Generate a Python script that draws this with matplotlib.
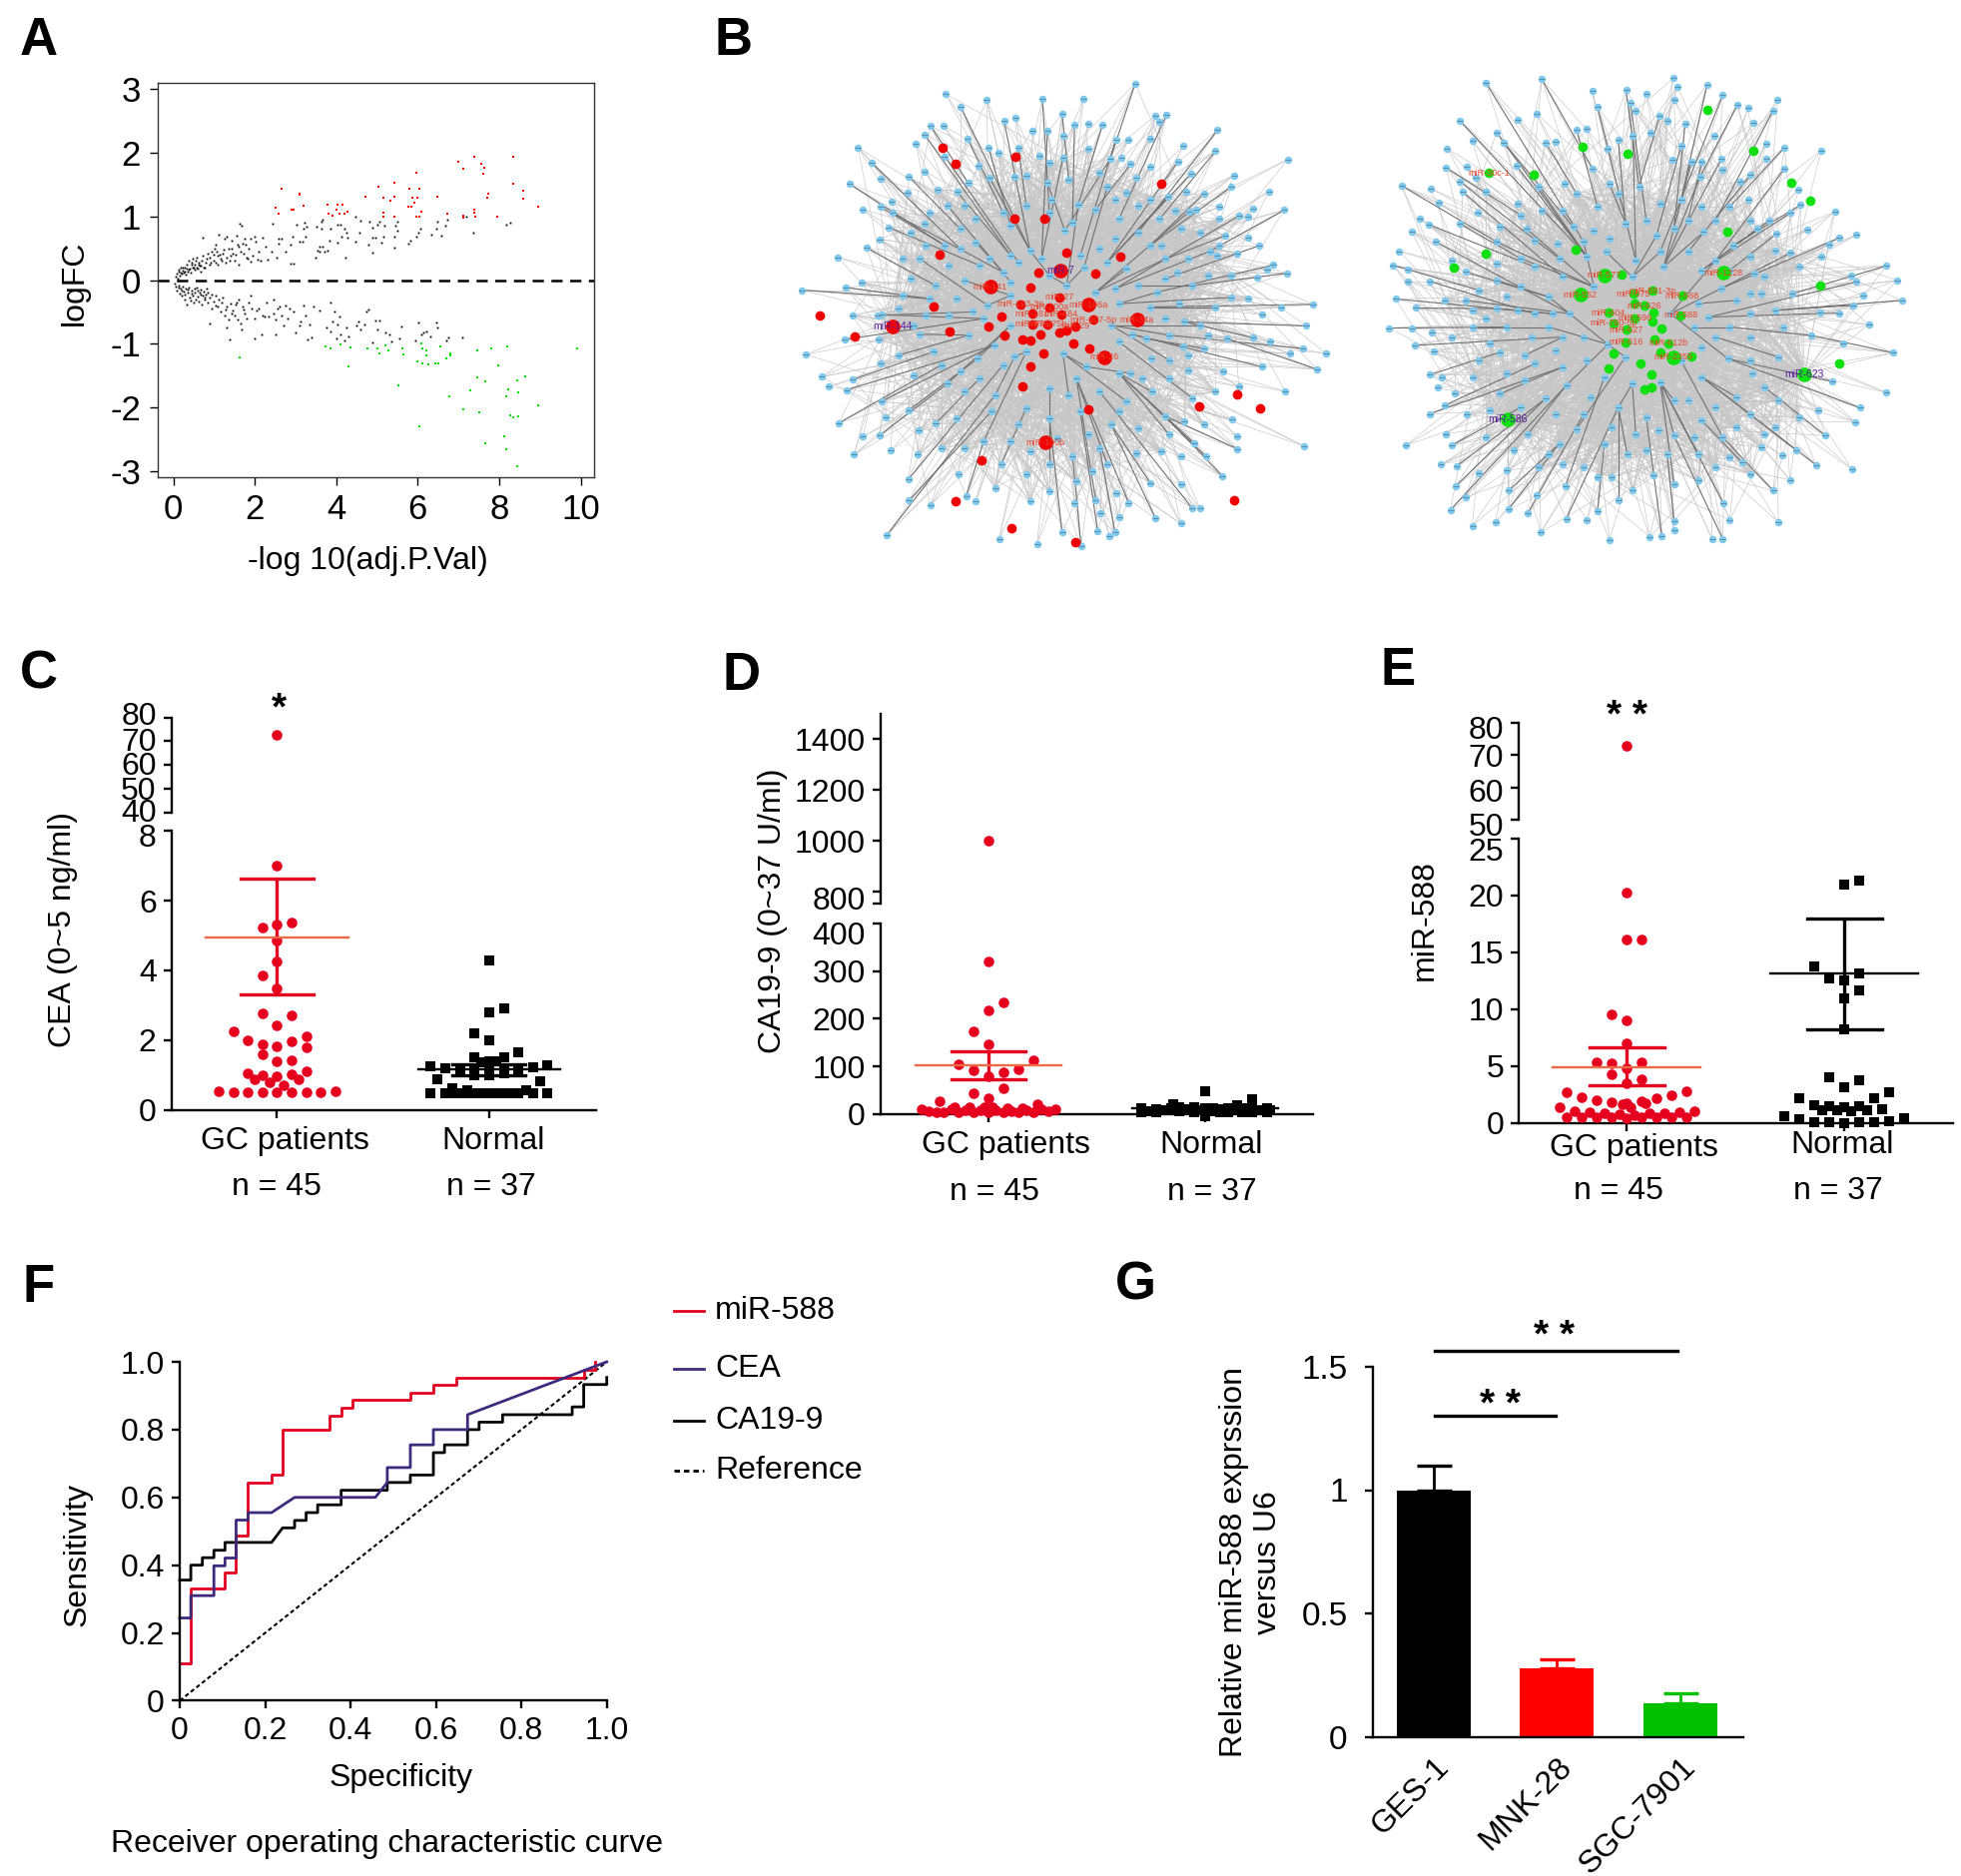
import matplotlib
matplotlib.use("Agg")
import matplotlib.pyplot as plt
from matplotlib.collections import LineCollection
from matplotlib.transforms import ScaledTranslation

plt.rcParams['font.family'] = ['Liberation Sans', 'DejaVu Sans']

W, H = 1965, 1879
RED = '#e60020'
ORANGE = '#ec6a45'
FS = 23

# Panel A: volcano plot
up_x = [2.51,2.58,2.66,3.09,3.11,2.89,2.95,3.2,3.79,3.81,3.91,4.02,4.0,4.16,4.09,4.19,4.27,4.72,5.03,5.15,5.33,5.43,5.43,5.16,5.15,5.43,5.79,6.05,5.96,5.88,6.0,5.92,5.76,5.85,6.1,5.96,6.04,6.47,6.73,6.99,7.12,7.4,7.55,7.63,7.61,7.11,7.12,7.38,7.4,7.41,7.74,7.71,7.95,8.34,8.34,8.59,8.59,8.96]
up_y = [1.14,1.04,1.44,1.34,1.36,1.10,1.11,1.17,1.19,1.04,1.01,1.19,1.11,1.19,1.04,1.05,1.08,1.31,1.47,1.29,1.25,1.31,1.53,1.06,1.0,1.0,1.44,1.43,1.68,1.29,1.29,1.22,1.16,1.15,1.08,1.0,1.0,1.31,1.04,1.86,1.75,1.94,1.83,1.77,1.67,1.01,0.98,1.10,1.06,1.0,1.35,1.3,1.0,1.94,1.52,1.40,1.28,1.15]
down_x = [1.63,3.74,3.86,4.1,4.35,4.29,4.77,5.01,5.06,5.21,5.28,5.63,5.65,5.53,6.09,6.11,6.21,6.22,6.0,6.12,6.27,6.44,6.5,6.55,6.71,6.79,6.81,6.78,7.12,7.29,7.45,7.46,7.52,7.66,7.66,7.8,7.98,8.19,8.12,8.18,8.23,8.17,8.27,8.34,8.46,8.44,8.47,8.44,8.63,8.96,9.92,6.05]
down_y = [-1.21,-1.04,-1.07,-1.01,-1.06,-1.35,-1.07,-1.08,-1.16,-1.02,-1.11,-1.07,-1.17,-1.66,-1.0,-1.08,-1.1,-1.18,-1.27,-1.31,-1.32,-1.31,-1.31,-1.05,-1.23,-1.15,-1.19,-1.82,-2.03,-1.74,-1.11,-1.53,-2.07,-1.59,-2.57,-1.07,-1.34,-1.04,-2.46,-1.82,-1.71,-2.65,-2.13,-2.16,-2.14,-1.57,-1.77,-2.92,-1.51,-1.96,-1.08,-2.29]
ns_up_x = [.05,.08,.1,.12,.15,.17,.2,.22,.25,.28,.3,.32,.35,.38,.4,.42,.45,.48,.5,.52,.55,.58,.6,.62,.65,.68,.7,.72,.73,.78,.8,.85,.88,.9,.95,1.0,1.02,1.05,1.08,1.1,1.12,1.15,1.2,1.25,1.28,1.32,1.35,1.4,1.42,1.45,1.5,1.55,1.58,1.6,1.62,1.65,1.68,1.7,1.75,1.8,1.85,1.9,2.0,1.9,2.08,2.18,2.26,2.1,2.31,2.41,2.53,2.44,2.58,2.58,2.66,2.76,2.87,2.96,2.87,2.92,3.02,3.09,3.22,3.2,3.27,3.24,3.17,3.48,3.53,3.58,3.66,3.51,3.63,3.66,3.63,3.58,3.71,3.78,3.86,3.83,4.03,4.11,4.19,4.24,4.03,4.14,4.27,4.22,4.46,4.59,4.82,4.57,4.46,4.78,4.9,4.9,4.95,4.9,5.05,5.02,5.18,5.15,5.1,5.43,5.43,5.49,5.46,5.51,5.81,5.76,5.97,6.02,6.07,6.34,6.47,6.45,6.58,6.68,6.73,7.2,7.37,8.17,8.27,.14,.18,.24,.27,.33,.37,.44,.47,.53,.57,.63,.67,.74,.83,.92,.98,1.04,1.07,1.13,1.18,1.23,1.3,1.38,1.44,1.52,1.6,1.72,1.78,1.83,1.95,2.03,2.15]
ns_up_y = [.05,.1,.03,.14,.07,.19,.1,.15,.12,.2,.08,.25,.14,.3,.18,.12,.27,.33,.2,.16,.3,.35,.18,.25,.22,.14,.3,.38,.66,.2,.28,.42,.25,.35,.45,.3,.5,.55,.38,.25,.72,.33,.42,.65,.28,.68,.5,.38,.62,.42,.3,.7,.55,.25,.88,.45,.85,.58,.65,.35,.5,.65,.68,.29,.32,.66,.53,.44,.32,.45,.35,.89,.65,.57,.65,.45,.26,.26,.56,.68,.87,.6,.9,.81,.84,.68,.6,.35,.47,.53,.53,.84,.92,.95,.8,.44,.44,.47,.8,.62,.87,.87,.8,.74,.59,.68,.66,.36,.99,.93,.92,.75,.6,.56,.43,.66,.66,.83,.92,.87,.86,.68,.59,.51,.68,.77,.86,.92,.62,.57,.68,.74,.8,.71,.92,.8,.69,.86,.95,.99,.75,.87,.9,.17,.12,.2,.13,.18,.16,.24,.19,.25,.19,.27,.23,.2,.33,.28,.4,.27,.45,.4,.3,.48,.36,.3,.5,.4,.52,.42,.55,.34,.38,.6,.3]
ns_down_x = [.03,.06,.09,.12,.15,.18,.2,.22,.25,.28,.3,.33,.35,.38,.4,.42,.45,.48,.5,.53,.55,.58,.6,.63,.65,.68,.7,.72,.75,.78,.8,.82,.85,.9,.95,1.0,1.05,1.1,1.15,1.2,1.25,1.3,1.32,1.35,1.38,1.4,1.45,1.5,1.55,1.6,1.65,1.68,1.7,1.75,1.8,1.9,1.92,2.0,2.0,2.1,2.17,2.2,2.3,2.35,2.45,2.45,2.5,2.52,2.6,2.65,2.7,2.75,2.8,2.85,2.95,3.0,3.1,3.12,3.2,3.25,3.3,3.35,3.4,3.45,3.6,3.75,3.85,3.87,3.9,3.95,4.0,4.02,4.08,4.1,4.2,4.25,4.3,4.5,4.55,4.6,4.75,4.8,4.7,4.9,4.95,5.0,5.05,5.2,5.3,5.35,5.55,5.6,5.95,6.02,6.1,6.15,6.2,6.3,6.45,6.47,6.7,6.75,7.1,.14,.21,.27,.36,.44,.52,.6,.67,.77,.84,.88,.93,1.03,1.12,1.18,1.28,1.43,1.53,1.58,1.72,1.85,2.05,2.25,2.55]
ns_down_y = [-.05,-.1,-.17,-.08,-.21,-.13,-.25,-.1,-.18,-.3,-.14,-.38,-.2,-.12,-.27,-.32,-.16,-.24,-.36,-.19,-.3,-.12,-.26,-.33,-.2,-.15,-.39,-.25,-.18,-.3,-.22,-.14,-.35,-.68,-.45,-.33,-.25,-.42,-.5,-.28,-.55,-.42,-.75,-.62,-.93,-.37,-.48,-.56,-.35,-.3,-.68,-.78,-.42,-.52,-.6,-.25,-.44,-.92,-.6,-.45,-.85,-.55,-.35,-.58,-.3,-.52,-.62,-.85,-.42,-.55,-.72,-.4,-.6,-.44,-.5,-.82,-.72,-.65,-.4,-.55,-.94,-.7,-.9,-.42,-.48,-.75,-.8,-.35,-.65,-.5,-.92,-.7,-.57,-.85,-.95,-.75,-.88,-.72,-.65,-.78,-.5,-.46,-.7,-.98,-.64,-.77,-.63,-.83,-.85,-.97,-.92,-.73,-.95,-.66,-.85,-.82,-.8,-.88,-.66,-.75,-.95,-.9,-.9,-.11,-.16,-.23,-.15,-.21,-.13,-.16,-.22,-.27,-.2,-.27,-.23,-.4,-.3,-.36,-.47,-.52,-.38,-.62,-.47,-.36,-.48,-.58,-.44]

# Panel B: network layout (crop coordinates)
left_genes = [(922,72),(432,103),(470,140),(538,120),(682,118),(788,116),(733,163),(612,175),(583,185),(975,168),(1003,166),(985,188),(393,200),(427,200),(378,226),(205,265),(240,310),(355,252),(488,237),(655,213),(695,213),(737,230),(765,195),(800,192),(837,197),(960,238),(872,240),(905,240),(1135,212),(1047,260),(1130,275),(1317,300),(1067,343),(1178,348),(1170,383),(1268,396),(1307,453),(1228,447),(1190,470),(1215,472),(183,374),(263,358),(337,353),(377,336),(430,292),(517,320),(543,265),(568,280),(620,265),(675,290),(735,296),(800,267),(858,298),(885,296),(910,314),(962,323),(1033,306),(333,400),(462,398),(217,451),(263,443),(293,428),(295,462),(390,460),(285,505),(260,541),(228,567),(378,494),(437,440),(490,370),(545,355),(610,352),(695,370),(750,360),(850,383),(925,355),(1008,412),(1055,398),(1100,403),(1025,455),(1062,457),(1140,443),(1243,560),(1213,535),(1155,530),(1135,590),(1115,577),(1187,583),(1280,618),(1237,655),(1315,643),(1262,632),(1383,737),(1300,746),(1365,802),(1415,885),(1393,933),(1310,1000),(1250,925),(1322,885),(1355,870),(1272,850),(1228,838),(1250,768),(1170,716),(1213,718),(1130,745),(1160,840),(1100,870),(1150,940),(1010,905),(1190,985),(1070,1020),(1185,1135),(1187,1173),(1360,1165),(1105,1195),(1173,1085),(1075,1155),(1040,1195),(1148,1255),(1090,1352),(1070,1352),(1040,1398),(975,1383),(1040,1280),(962,1277),(872,1307),(905,1335),(880,1380),(825,1422),(855,1435),(870,1425),(833,1367),(820,1328),(765,1336),(733,1425),(668,1460),(782,1465),(570,1445),(280,1432),(392,1343),(337,1328),(510,1330),(485,1314),(465,1250),(335,1265),(195,1190),(155,1095),(218,1135),(260,1133),(290,1178),(265,1030),(277,1077),(335,1057),(362,1117),(405,1097),(130,985),(175,995),(112,955),(192,963),(263,915),(310,890),(70,888),(170,843),(258,843),(60,694),(153,595),(172,686),(215,670),(265,768),(190,770),(255,770),(320,710),(365,827),(400,880),(437,975),(480,1000),(515,900),(557,860),(610,895),(735,885),(795,925),(880,945),(910,945),(963,900),(1045,865),(915,828),(1010,830),(960,745),(980,700),(1035,735),(1070,680),(1030,640),(1000,600),(960,560),(900,630),(850,610),(790,625),(740,515),(775,435),(705,420),(650,575),(600,590),(510,550),(440,620),(480,665),(405,680),(365,600),(390,720),(540,740),(600,710),(745,680),(880,735),(1090,800),(1060,935),(965,1000),(1000,1075),(900,1030),(800,1130),(750,1010),(640,1050),(560,1010),(460,1080),(530,1150),(600,1150),(700,1220),(640,1250),(575,1220),(760,1195),(850,1220),(925,1185),(1010,1130),(1100,1100)]
left_inner = [(470,510),(510,480),(580,460),(640,440),(700,460),(760,490),(820,450),(870,420),(930,440),(985,480),(1040,510),(1090,520),(1140,560),(470,570),(545,600),(580,640),(620,610),(680,600),(780,590),(830,570),(870,540),(930,520),(990,560),(1060,600),(1110,650),(1170,650),(460,720),(500,760),(440,770),(380,770),(350,800),(490,830),(530,780),(600,800),(640,880),(580,920),(520,960),(470,940),(420,920),(350,950),(700,990),(770,960),(830,1000),(880,1060),(940,960),(1010,960),(1060,890),(1110,830),(1050,790),(1000,780),(950,840),(880,850),(860,800),(870,690),(930,680),(1000,660),(820,700),(700,650),(600,670),(520,620),(430,560),(340,520),(380,560),(320,600),(340,660),(310,750),(550,1060),(620,1100),(700,1080),(780,1060),(860,1100),(930,1110),(480,1170),(420,1170),(360,1190),(650,1180),(720,1140),(830,1170),(990,1180),(1050,1090),(1130,1000),(700,1300),(650,1330),(560,1290),(770,1270),(810,1240),(600,500),(880,480),(1140,480),(480,440),(410,390),(700,310),(640,350),(830,340),(900,400),(960,420),(1080,450)]
left_big = [(728,634),(295,804),(690,1153),(842,896),(927,783),(801,738),(547,684)]
left_mid = [(625,736),(700,745),(725,716),(730,767),(656,765),(655,797),(695,797),(767,803),(813,783),(684,884),(650,925),(584,832),(630,842),(650,847),(678,829),(727,823),(745,815),(761,855),(804,870),(630,985),(575,775),(542,805),(442,820),(651,686),(819,644),(672,642),(743,580),(883,594),(417,587),(688,480),(609,478),(612,291),(458,313),(423,266),(990,373),(107,771),(196,835),(400,743),(800,1053),(1088,1043),(1246,1049),(1185,1008),(525,1208),(457,1330),(602,1412),(767,1453),(1177,1327)]
left_labels = ['miR-7','miR-144','miR-100b','miR-26','miR-34a','miR-106a','miR-141','miR-193-3p','miR-200a','miR-27','miR-484','miR-181','miR-375','miR-375b','miR-29','miR-107-5p']
left_label_xy = [(728,634),(295,804),(690,1153),(842,896),(927,783),(801,738),(547,684),(625,736),(700,745),(725,716),(730,767),(656,765),(655,797),(695,797),(767,803),(813,783)]

right_genes = [(500,58),(878,55),(340,70),(890,80),(975,75),(645,92),(742,90),(800,103),(1020,105),(880,120),(755,130),(1178,120),(1062,135),(1093,145),(660,140),(770,152),(1165,152),(485,160),(838,168),(430,178),(265,183),(860,183),(912,190),(1108,188),(600,210),(630,205),(370,218),(812,218),(390,247),(300,242),(510,247),(540,245),(762,226),(995,228),(720,240),(228,265),(225,323),(285,320),(427,317),(690,267),(900,258),(1145,250),(1198,262),(1302,272),(1017,296),(1145,295),(1197,326),(645,325),(960,305),(875,300),(930,305),(310,352),(265,365),(180,385),(97,377),(203,427),(272,395),(340,396),(490,380),(565,370),(695,372),(1020,330),(955,350),(1070,365),(1100,345),(1238,388),(1243,435),(1095,420),(1215,458),(1342,455),(1155,480),(1262,508),(1175,520),(1405,524),(1355,533),(1325,552),(1215,578),(1303,588),(1490,617),(1388,646),(1405,665),(1522,660),(1535,720),(1425,707),(1395,735),(1300,755),(1355,758),(1440,793),(1275,825),(1365,848),(1510,877),(1490,996),(1415,1042),(1400,1084),(1335,963),(1295,1048),(1315,1125),(1392,1226),(1288,1213),(1213,1258),(1230,1168),(1190,1185),(1165,1290),(1180,1385),(1022,1328),(1040,1377),(1020,1435),(990,1435),(880,1380),(880,1407),(845,1425),(810,1428),(720,1320),(695,1437),(660,1350),(630,1378),(570,1375),(497,1415),(460,1357),(367,1383),(405,1345),(300,1395),(237,1348),(280,1310),(252,1277),(320,1238),(405,1290),(485,1303),(567,1278),(210,1212),(255,1217),(108,1155),(240,1155),(225,1120),(178,1060),(285,1062),(220,1035),(200,982),(178,943),(213,950),(135,855),(190,873),(60,803),(125,805),(138,743),(185,817),(80,716),(115,663),(178,663),(115,628),(72,615),(90,573),(195,545),(125,514),(175,493),(148,475),(263,490),(315,458),(370,545),(440,465),(455,505),(545,550),(620,545),(695,535),(830,525),(880,505),(965,515),(1050,555),(1120,505),(1100,590),(1000,600),(920,575),(840,575),(770,600),(685,575),(550,595),(440,595),(370,610),(280,635),(320,690),(370,660),(440,680),(520,710),(580,760),(520,800),(430,750),(370,745),(340,775),(280,720),(240,830),(300,800),(380,875),(450,885),(540,870),(620,830),(690,852),(740,890),(840,965),(880,1020),(960,950),(1035,895),(1100,830),(1040,800),(980,770),(1060,720),(1130,700),(1015,685),(1195,800),(1180,890),(1105,940),(1060,1010),(1100,1060),(1020,1130),(960,1080),(880,1125),(800,1070),(720,1040),(640,1010),(570,975),(450,960),(380,1000),(510,1015),(460,1120),(520,1180),(600,1105),(680,1150),(770,1120),(835,1110),(745,1180),(660,1250),(880,1270),(820,1245),(950,1180),(1040,1190),(1075,1205),(1140,1120)]
right_inner = [(600,400),(660,440),(720,400),(780,380),(840,430),(900,420),(960,440),(1040,440),(1100,480),(560,450),(500,450),(430,430),(380,500),(480,540),(590,500),(650,510),(740,490),(800,480),(920,480),(1000,480),(1170,570),(1240,620),(1140,650),(1220,700),(1170,750),(1100,760),(1110,640),(1040,630),(960,630),(850,620),(760,650),(630,590),(560,650),(480,620),(400,710),(300,750),(220,720),(240,600),(480,760),(560,830),(470,830),(400,800),(350,850),(320,900),(400,940),(480,910),(560,920),(630,900),(680,950),(760,970),(900,900),(960,860),(1000,830),(1100,900),(1140,980),(1180,1020),(1000,1040),(920,1020),(940,1130),(860,1180),(800,1170),(700,1100),(620,1060),(540,1060),(440,1040),(350,1050),(300,950),(250,1000),(340,1130),(420,1170),(550,1150),(620,1220),(700,1250),(760,1290),(950,1260),(1000,1220),(1060,1100),(1170,1100),(1240,1070),(1130,1160),(1100,1240),(560,1210),(490,1220),(400,1230),(940,800),(950,730),(870,760),(1100,700),(650,680),(530,760)]
right_big = [(1255,941),(403,1077),(1022,638),(680,645),(610,703),(878,891)]
right_mid = [(728,642),(763,700),(818,692),(903,706),(765,730),(795,737),(691,757),(767,773),(820,757),(818,783),(899,765),(705,788),(743,808),(845,804),(741,846),(825,838),(865,848),(840,876),(930,888),(706,878),(693,923),(784,909),(816,943),(814,980),(796,988),(1032,515),(597,567),(340,580),(248,622),(347,338),(476,343),(617,260),(747,282),(977,150),(1107,271),(1218,368),(1273,421),(1300,675),(1355,909)]
right_labels = ['miR-623','miR-586','miR-1228','miR-577','miR-552','miR-2355','miR-675','miR-591-3p','miR-568','miR-626','miR-604','miR-596','miR-588','miR-760-5p','miR-627','miR-616','miR-612b','miR-30c-1']
right_label_xy = [(1255,941),(403,1077),(1022,638),(680,645),(610,703),(878,891),(763,700),(818,692),(903,706),(795,737),(691,757),(767,773),(899,765),(705,788),(743,808),(741,846),(865,848),(347,338)]

# Panel C: CEA
cea_gc_x = [0,.069,-.069,0,0,0,-.069,0,-.069,.069,0,-.206,.138,-.138,.069,-.069,0,.138,-.069,0,.069,-.138,.138,-.069,.069,0,-.104,.102,-.035,.032,-.275,-.206,-.138,-.069,0,.069,.138,.206,.275]
cea_gc_y = [7.0,5.37,5.24,5.31,4.85,4.27,3.86,3.47,2.77,2.71,2.41,2.25,2.11,1.99,1.96,1.89,1.83,1.8,1.6,1.39,1.42,1.06,1.09,1.0,1.01,.95,.88,.88,.8,.71,.53,.49,.49,.49,.49,.49,.49,.49,.52]
cea_gc_top = 72.8
cea_n_x = [0,.069,0,-.069,0,.138,-.069,.069,0,-.037,.033,-.275,.275,-.206,.206,-.138,-.069,0,.069,.138,-.069,0,.069,-.242,.242,-.173,-.104,.173,-.275,-.206,-.138,-.069,0,.069,.138,.206,.275,-.173,-.104,-.033,.033,.104]
cea_n_y = [4.29,2.91,2.8,2.2,2.0,1.65,1.51,1.51,1.39,1.35,1.39,1.26,1.28,1.19,1.23,1.12,1.18,1.18,1.18,1.12,.99,.99,1.06,.87,.81,.63,.57,.57,.48,.48,.48,.48,.48,.48,.48,.48,.48,.48,.48,.48,.48,.48]
cea_stats = [(4.95, 3.3, 6.65), (1.15, 1.0, 1.3)]

# Panel D: CA19-9
ca_gc_x = [0,.069,0,-.069,0,.206,-.138,-.069,.138,.069,0,.069,-.069,0,-.224,.224,-.31,-.275,-.242,-.206,-.173,-.155,-.138,-.104,-.086,-.069,-.035,-.018,0,.018,.034,.069,.086,.104,.138,.155,.173,.206,.224,.242,.275,.31]
ca_gc_y = [320,235,217,174,146,112,104,92,93,88,80,54,43,32,26,20,10,5,3,3,10,14,3,8,15,3,8,14,4,14,8,3,12,5,3,13,8,3,10,10,5,10]
ca_gc_top = 1000
ca_n_x = [0,.215,-.146,.146,-.296,-.296,-.261,-.226,-.226,-.19,-.155,-.12,-.12,-.085,-.05,-.05,-.015,0,0,.035,.035,.07,.07,.105,.105,.14,.17,.175,.215,.215,.25,.285,.285,.3]
ca_n_y = [47,30,20,18,12,4,6,10,3,7,12,6,14,10,3,14,8,13,-4,6,12,4,10,12,3,8,4,12,12,4,8,4,12,8]
ca_stats = [(102, 72, 131), (11, 9, 13)]

# Panel E: miR-588
mir_gc_x = [0,0,.07,-.068,0,0,-.137,-.068,.07,0,-.068,.07,0,-.274,.276,-.205,.207,-.137,-.068,.139,.07,.087,0,-.017,.017,-.31,-.241,-.171,-.103,-.034,.036,.104,.173,.241,.31,-.274,-.205,-.137,-.068,0,.07,.139,.207,.276]
mir_gc_y = [20.26,16.1,16.15,9.55,9.05,6.96,5.35,5.25,5.35,4.75,4.24,3.84,3.5,2.66,2.73,2.22,2.39,1.95,1.82,2.12,1.92,1.75,1.72,1.62,1.38,1.35,1.0,.94,.87,.74,.67,.81,.87,.94,1.04,.47,.47,.45,.45,.42,.45,.45,.45,.47]
mir_gc_top = 72.8
mir_n_x = [.07,0,-.137,.07,-.068,0,.07,0,0,-.068,.07,0,.207,-.205,.139,-.137,-.068,0,.07,.173,-.103,-.034,.034,.104,-.276,-.205,.276,-.137,-.068,0,.07,.139,.207]
mir_n_y = [21.3,21.0,13.76,13.1,12.7,12.5,11.65,10.9,8.2,3.97,3.7,3.13,2.66,2.19,2.12,1.5,1.41,1.35,1.41,1.2,1.08,1.08,1.0,1.08,.6,.34,.4,.05,.05,-.05,.05,.05,.1]
mir_stats = [(4.9, 3.3, 6.65), (13.15, 8.2, 18.0)]

# Panel F: ROC curves
roc_mir_x = [0,.026,.026,.106,.106,.132,.132,.16,.16,.215,.215,.241,.241,.35,.35,.378,.378,.404,.404,.54,.54,.594,.594,.647,.647,.946,.946,.973,.973]
roc_mir_y = [.11,.11,.33,.33,.378,.378,.487,.487,.644,.644,.667,.667,.8,.8,.842,.842,.865,.865,.888,.888,.91,.91,.933,.933,.954,.954,.977,.977,1.0]
roc_cea_x = [0,.026,.026,.08,.08,.106,.106,.132,.132,.16,.16,.215,.269,.458,.486,.486,.54,.54,.594,.594,.674,.674,1.0]
roc_cea_y = [.244,.244,.31,.31,.398,.398,.421,.421,.533,.533,.555,.555,.6,.6,.644,.688,.688,.755,.755,.8,.8,.844,1.0]
roc_ca_x = [0,.026,.026,.053,.053,.08,.08,.106,.106,.215,.241,.269,.269,.296,.296,.323,.323,.378,.378,.486,.486,.54,.54,.594,.594,.62,.62,.674,.674,.701,.701,.756,.756,.919,.919,.946,.946,1.0,1.0]
roc_ca_y = [.356,.356,.4,.4,.422,.422,.444,.444,.467,.467,.51,.51,.532,.532,.555,.555,.578,.578,.621,.621,.644,.644,.666,.666,.732,.732,.755,.755,.8,.8,.822,.822,.844,.844,.867,.867,.933,.933,.954]
ref_x = [0, 1]
ref_y = [0, 1]
legend_names = ['miR-588', 'CEA', 'CA19-9', 'Reference']

# Panel G: bars
cell_lines = ['GES-1', 'MNK-28', 'SGC-7901']
cell_vals = [1.0, .276, .137]
cell_err = [.10, .037, .039]
cell_colors = ['#000000', '#ff0000', '#00c000']

fig = plt.figure(figsize=(W / 100, H / 100), dpi=100)


def add_ax(x0, y0, x1, y1):
    return fig.add_axes([x0 / W, 1 - y1 / H, (x1 - x0) / W, (y1 - y0) / H])


def txt(x, y, s, **kw):
    kw.setdefault('fontsize', FS)
    kw.setdefault('ha', 'center')
    kw.setdefault('va', 'center')
    fig.text(x / W, 1 - y / H, s, **kw)


def style(ax):
    for s in ['top', 'right']:
        ax.spines[s].set_visible(False)
    for s in ['left', 'bottom']:
        ax.spines[s].set_linewidth(1.7)
    ax.tick_params(labelsize=FS, width=1.7, length=6, pad=5)


def nudge(ax, moves):
    # tick labels sit a little off their ticks in the original, dy in pixels, down is positive
    fig.canvas.draw()
    for lab in ax.get_yticklabels():
        if lab.get_text() in moves:
            dy = moves[lab.get_text()]
            lab.set_transform(lab.get_transform() + ScaledTranslation(0, -dy / 100, fig.dpi_scale_trans))


# panel letters
for (lx, ly, s) in [(39, 41, 'A'), (735, 41, 'B'), (39, 675, 'C'), (743, 677, 'D'),
                    (1400, 672, 'E'), (39, 1290, 'F'), (1137, 1287, 'G')]:
    txt(lx, ly, s, fontsize=38, fontweight='bold')

# A
ax = add_ax(157.7, 83.4, 594.6, 477.6)
ax.plot(ns_up_x + ns_down_x, ns_up_y + ns_down_y, 's', color='black', ms=1.3, mew=0)
ax.plot(up_x, up_y, 's', color='#ff0000', ms=1.5, mew=0)
ax.plot(down_x, down_y, 's', color='#00e000', ms=1.5, mew=0)
ax.axhline(0, color='black', lw=1.8, dashes=(4.5, 3))
ax.set_xlim(-0.39, 10.32)
ax.set_ylim(-3.09, 3.09)
ax.set_xticks([0, 2, 4, 6, 8, 10])
ax.set_yticks([-3, -2, -1, 0, 1, 2, 3])
ax.set_yticklabels(['-3', '-2', '-1', '0', '1', '2', '3'])
ax.tick_params(labelsize=25, width=1, length=6, pad=6)
for s in ax.spines.values():
    s.set_linewidth(1)
    s.set_color('#333333')
txt(368, 562, '-log 10(adj.P.Val)')
txt(75, 283, 'logFC', rotation=90)


# B
def network(rect, genes, inner, big, mid, labels, label_xy, hub_color, zoom_w, zoom_h):
    ax = add_ax(*rect)
    ax.set_xlim(0, zoom_w)
    ax.set_ylim(zoom_h, 0)
    ax.axis('off')
    hubs = big + mid
    core = [h for h in hubs if abs(h[0] - 750) < 260 and abs(h[1] - 770) < 200]
    cx = sum(p[0] for p in core) / len(core)
    cy = sum(p[1] for p in core) / len(core)
    light, dark = [], []
    everyone = genes + inner
    for i, g in enumerate(everyone):
        r2 = (g[0] - cx) ** 2 + (g[1] - cy) ** 2
        # outer nodes only have a couple of links, the middle is crowded
        n_hub, n_inner = (2, 1) if r2 > 520 ** 2 else (4, 5)
        for k in range(n_hub):
            light.append([g, core[(i * 3 + k * 5) % len(core)]])
        for k in range(1, n_inner + 1):
            light.append([g, inner[(i * k + k * 11) % len(inner)]])
        for h in big[:2]:
            if i % 3 == 0:
                light.append([g, h])
    for i, g in enumerate(genes):
        if i % 2 == 0:
            # long dark spoke toward the middle, ends on whichever node lies on its way
            f = [.35, .5, .65][i % 3]
            mx, my = g[0] + (cx - g[0]) * f, g[1] + (cy - g[1]) * f
            stop = min((p for p in everyone if p != g), key=lambda p: (p[0] - mx) ** 2 + (p[1] - my) ** 2)
            dark.append([g, stop])
    ax.add_collection(LineCollection(light, colors='#c6c6c6', linewidths=0.45, zorder=1))
    ax.add_collection(LineCollection(dark, colors='#707070', linewidths=0.8, zorder=2))
    gx = [p[0] for p in everyone]
    gy = [p[1] for p in everyone]
    ax.plot(gx, gy, 'o', color='#7fc9ee', ms=5.4, mew=0, zorder=3)
    ax.plot(gx, gy, '_', color='#3a3a3a', ms=5, mew=0.5, alpha=0.6, zorder=4)
    ax.plot([p[0] for p in mid], [p[1] for p in mid], 'o', color=hub_color, ms=7, mew=0, zorder=5)
    ax.plot([p[0] for p in big], [p[1] for p in big], 'o', color=hub_color, ms=10.5, mew=0, zorder=5)
    for i, (name, p) in enumerate(zip(labels, label_xy)):
        col = '#5a1a9a' if i < 2 else '#e8442c'
        ax.text(p[0], p[1], name, color=col, fontsize=7.5 if i < 2 else 6.5, ha='center', va='center', zorder=6)


network((780, 60, 1380, 560), left_genes, left_inner, left_big, left_mid, left_labels, left_label_xy, '#f00000', 1550, 1505)
network((1370, 60, 1910, 560), right_genes, right_inner, right_big, right_mid, right_labels, right_label_xy, '#10e010', 1550, 1495)


# C, D, E dot plots with a broken axis
def dot_panel(rect_top, rect_low, xl, yl_top, yl_low, ticks_top, ticks_low, gc_x, gc_y, top_val, n_x, n_y, stats, half_mean, half_cap):
    top = add_ax(*rect_top)
    low = add_ax(*rect_low)
    style(top)
    style(low)
    top.spines['bottom'].set_visible(False)
    top.set_xticks([])
    top.set_xlim(*xl)
    low.set_xlim(*xl)
    top.set_ylim(*yl_top)
    low.set_ylim(*yl_low)
    top.set_yticks(ticks_top)
    low.set_yticks(ticks_low)
    low.set_xticks([0, 1])
    low.set_xticklabels([])
    top.plot([0], [top_val], 'o', color=RED, ms=7.6, mew=0, clip_on=False)
    low.plot(gc_x, gc_y, 'o', color=RED, ms=7.6, mew=0, clip_on=False, zorder=3)
    low.plot([1 + v for v in n_x], n_y, 's', color='black', ms=7, mew=0, clip_on=False, zorder=3)
    for pos, (m, lo, hi), col, mcol in [(0, stats[0], RED, ORANGE), (1, stats[1], 'black', 'black')]:
        low.plot([pos, pos], [lo, hi], color=col, lw=2.4, zorder=4, solid_capstyle='butt')
        for v in (lo, hi):
            low.plot([pos - half_cap, pos + half_cap], [v, v], color=col, lw=2.4, zorder=4)
        low.plot([pos - half_mean, pos + half_mean], [m, m], color=mcol, lw=1.7, zorder=5)
    return top, low


top_c, low_c = dot_panel((172, 718.5, 597, 813.7), (172, 832.5, 597, 1111.5), (-.496, 1.504), (40, 80), (0, 8),
                         [40, 50, 60, 70, 80], [0, 2, 4, 6, 8], cea_gc_x, cea_gc_y, cea_gc_top, cea_n_x, cea_n_y, cea_stats, .335, .172)
nudge(top_c, {'80': -4, '70': -2, '60': -2, '40': -2})
nudge(low_c, {'8': 4})
txt(285, 1143, 'GC patients')
txt(494, 1143, 'Normal')
txt(277, 1189, 'n = 45')
txt(492, 1189, 'n = 37')
txt(63, 931, 'CEA (0~5 ng/ml)', rotation=90)
txt(279, 710, '*', fontsize=28, fontweight='bold')

top_d, low_d = dot_panel((882, 714.6, 1315.5, 905), (882, 925, 1315.5, 1115.7), (-.498, 1.5), (753, 1500), (0, 400),
                         [800, 1000, 1200, 1400], [0, 100, 200, 300, 400], ca_gc_x, ca_gc_y, ca_gc_top, ca_n_x, ca_n_y, ca_stats, .338, .172)
top_d.set_yticks([753], minor=True)
top_d.tick_params(which='minor', width=1.7, length=6)
nudge(top_d, {'800': 6})
nudge(low_d, {'400': 10})
txt(1007, 1147, 'GC patients')
txt(1213, 1147, 'Normal')
txt(996, 1194, 'n = 45')
txt(1214, 1194, 'n = 37')
txt(774, 912, 'CA19-9 (0~37 U/ml)', rotation=90)

top_e, low_e = dot_panel((1521.4, 724, 1956.5, 821.4), (1521.4, 840, 1956.5, 1124.5), (-.494, 1.502), (50, 80), (0, 25),
                         [50, 60, 70, 80], [0, 5, 10, 15, 20, 25], mir_gc_x, mir_gc_y, mir_gc_top, mir_n_x, mir_n_y, mir_stats, .338, .172)
nudge(top_e, {'80': 4, '60': 3, '50': 4})
nudge(low_e, {'25': 10})
txt(1636, 1150, 'GC patients')
txt(1845, 1147, 'Normal')
txt(1621, 1193, 'n = 45')
txt(1841, 1193, 'n = 37')
txt(1427, 922, 'miR-588', rotation=90)
txt(1630, 718, '* *', fontsize=28, fontweight='bold')

# F
ax = add_ax(180, 1364, 607.7, 1703.4)
style(ax)
ax.plot(ref_x, ref_y, color='black', lw=1.5, dashes=(2, 1.4), clip_on=False)
ax.plot(roc_ca_x, roc_ca_y, color='black', lw=2, clip_on=False)
ax.plot(roc_mir_x, roc_mir_y, color='#e2001f', lw=2, clip_on=False)
ax.plot(roc_cea_x, roc_cea_y, color='#3d2a7d', lw=2, clip_on=False)
ax.set_xlim(0, 1)
ax.set_ylim(0, 1)
ax.set_xticks([0, .2, .4, .6, .8, 1])
ax.set_xticklabels(['0', '0.2', '0.4', '0.6', '0.8', '1.0'])
ax.set_yticks([0, .2, .4, .6, .8, 1])
ax.set_yticklabels(['0', '0.2', '0.4', '0.6', '0.8', '1.0'])
txt(402, 1781, 'Specificity')
txt(388, 1847, 'Receiver operating characteristic curve')
txt(78, 1557, 'Sensitivity', rotation=90)

leg_ax = add_ax(670, 1290, 880, 1490)
leg_ax.set_xlim(670, 880)
leg_ax.set_ylim(1490, 1290)
leg_ax.axis('off')
leg_styles = [dict(color='#e2001f'), dict(color='#3d2a7d'), dict(color='black'), dict(color='black', dashes=(2, 1.4))]
for name, ly, kw in zip(legend_names, [1313, 1371, 1423, 1473], leg_styles):
    leg_ax.plot([675, 705], [ly, ly], lw=2, **kw)
    leg_ax.text(716, ly, name, fontsize=FS, va='center')

# G
ax = add_ax(1374.6, 1369, 1745.7, 1739.5)
style(ax)
ax.bar(range(3), cell_vals, width=.6, color=cell_colors)
for i in range(3):
    ax.errorbar(i, cell_vals[i], yerr=[[0], [cell_err[i]]], color=cell_colors[i], elinewidth=2, capsize=12.6, capthick=2.4)
ax.set_xlim(-.494, 2.511)
ax.set_ylim(0, 1.5)
ax.set_yticks([0, .5, 1, 1.5])
ax.set_yticklabels(['0', '0.5', '1', '1.5'])
ax.set_xticks(range(3))
ax.set_xticklabels(cell_lines, rotation=45, ha='right', rotation_mode='anchor')
ax.tick_params(axis='y', labelsize=24, pad=12)
ax.tick_params(axis='x', length=0, pad=11)
ax.plot([.01, .99], [1.30, 1.30], color='black', lw=2.4, clip_on=False)
ax.plot([.01, 1.98], [1.566, 1.566], color='black', lw=2.4, clip_on=False)
txt(1503, 1408, '* *', fontsize=28, fontweight='bold')
txt(1557, 1339, '* *', fontsize=28, fontweight='bold')
txt(1253, 1565, 'Relative miR-588 exprssion\nversus U6', rotation=90, linespacing=1.15)

fig.savefig('out.png', dpi=100)
